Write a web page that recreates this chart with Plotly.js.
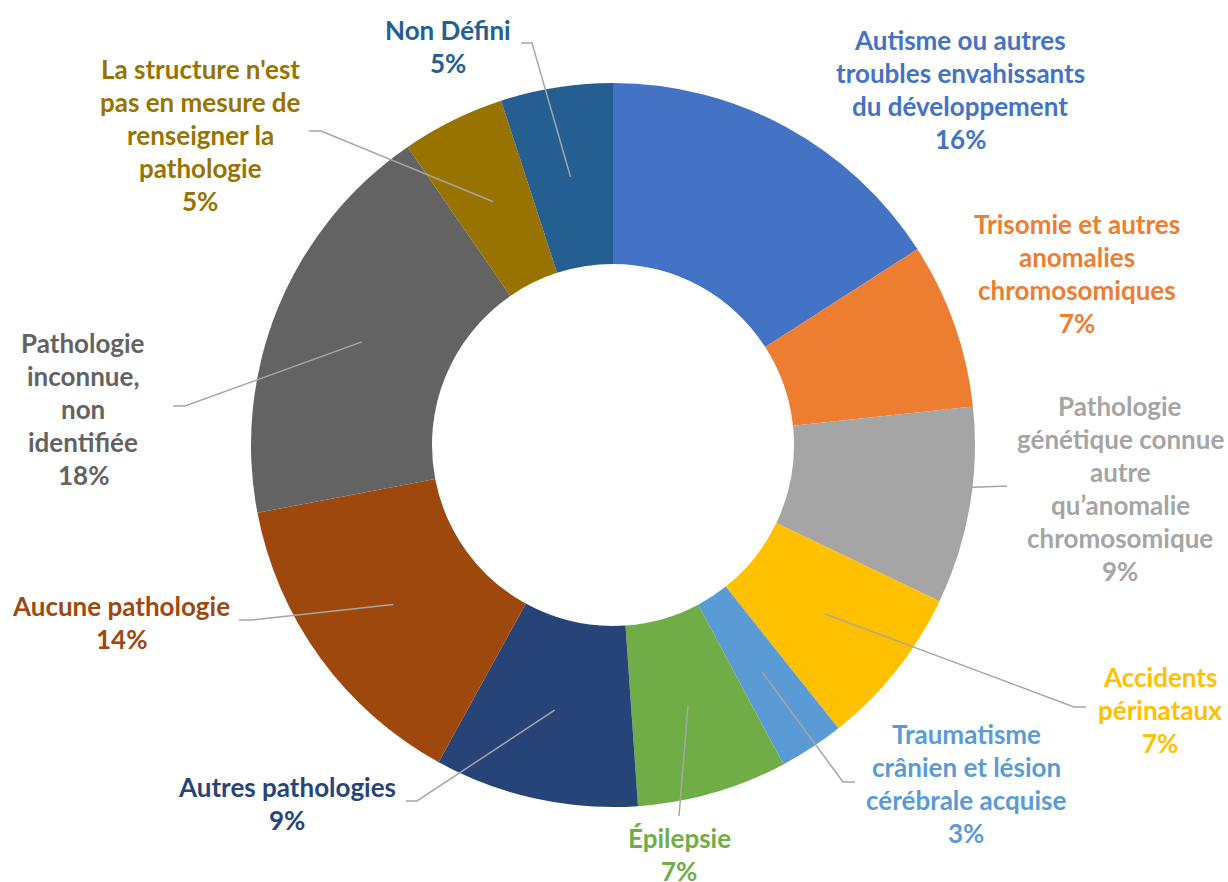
<!DOCTYPE html>
<html>
<head>
<meta charset="utf-8">
<script src="https://cdn.plot.ly/plotly-3.0.1.min.js"></script>
<style>html,body{margin:0;padding:0;background:#fff;}#chart{width:1228px;height:882px;}</style>
</head>
<body>
<div id="chart"></div>
<script>
// ---- data ----
const categories = [
  "Autisme ou autres troubles envahissants du développement",
  "Trisomie et autres anomalies chromosomiques",
  "Pathologie génétique connue autre qu’anomalie chromosomique",
  "Accidents périnataux",
  "Traumatisme crânien et lésion cérébrale acquise",
  "Épilepsie",
  "Autres pathologies",
  "Aucune pathologie",
  "Pathologie inconnue, non identifiée",
  "La structure n'est pas en mesure de renseigner la pathologie",
  "Non Défini"
];
const values = [15.9, 7.4, 8.8, 7.2, 2.9, 6.7, 9.1, 14.0, 18.4, 4.6, 5.0];
const labelLines = [
  ["Autisme ou autres", "troubles envahissants", "du développement"],
  ["Trisomie et autres", "anomalies", "chromosomiques"],
  ["Pathologie", "génétique connue", "autre", "qu’anomalie", "chromosomique"],
  ["Accidents", "périnataux"],
  ["Traumatisme", "crânien et lésion", "cérébrale acquise"],
  ["Épilepsie"],
  ["Autres pathologies"],
  ["Aucune pathologie"],
  ["Pathologie", "inconnue,", "non", "identifiée"],
  ["La structure n'est", "pas en mesure de", "renseigner la", "pathologie"],
  ["Non Défini"]
];
const colors = ["#4472C4","#ED7D31","#A5A5A5","#FFC000","#5B9BD5","#70AD47","#264478","#9E480E","#636363","#997300","#255E91"];
const textColors = ["#4472C4","#ED7D31","#A5A5A5","#FFC000","#5B9BD5","#70AD47","#264478","#9E480E","#636363","#997300","#255E91"];

// ---- layout constants (pixels) ----
const W = 1228, H = 882;
const cx = 613, cy = 445, R = 362;
const lineGap = 33;
// label block: centre x, first line y
const labelPos = [
  [960, 40], [1077, 224], [1120, 406], [1160, 677], [966, 734],
  [679, 838], [287, 787], [121, 606], [83, 343], [200, 69], [448, 30]
];
// leader line points after the slice anchor (null = no line)
const leaders = [
  null, null,
  [[1007, 486]],
  [[1074, 707], [1086, 707]],
  [[843, 782], [855, 782]],
  [[679, 816]],
  [[417, 801], [406, 801]],
  [[252, 620], [239, 620]],
  [[185, 406], [173, 406]],
  [[321, 131], [309, 131]],
  [[532, 43], [521, 43]]
];

const px = x => x / W;
const py = y => 1 - y / H;

const total = values.reduce((a, b) => a + b, 0);
const annotations = [];
const shapes = [];
let cum = 0;
values.forEach((v, i) => {
  const mid = (cum + v / 2) / total * 2 * Math.PI;
  cum += v;
  const pct = Math.round(v / total * 100) + "%";
  const lines = labelLines[i].concat([pct]);
  const [lx, ly] = labelPos[i];
  lines.forEach((t, k) => {
    annotations.push({
      xref: "paper", yref: "paper",
      x: px(lx), y: py(ly + k * lineGap),
      xanchor: "center", yanchor: "middle",
      text: t, showarrow: false,
      font: {family: "Lato, 'Open Sans', sans-serif", size: 26, color: textColors[i], weight: "bold"}
    });
  });
  if (leaders[i]) {
    const r = 0.75 * R;
    const sx = cx + r * Math.sin(mid), sy = cy - r * Math.cos(mid);
    let path = "M " + px(sx) + "," + py(sy);
    leaders[i].forEach(p => { path += " L " + px(p[0]) + "," + py(p[1]); });
    shapes.push({type: "path", xref: "paper", yref: "paper", path: path,
      line: {color: "#A6A6A6", width: 1.5}});
  }
});

const data = [{
  type: "pie",
  labels: categories,
  values: values,
  hole: 0.5,
  sort: false,
  direction: "clockwise",
  rotation: 0,
  textinfo: "none",
  hoverinfo: "label+percent",
  marker: {colors: colors, line: {width: 0}},
  domain: {x: [(cx - R) / W, (cx + R) / W], y: [1 - (cy + R) / H, 1 - (cy - R) / H]},
  showlegend: false
}];

const layout = {
  width: W, height: H,
  margin: {l: 0, r: 0, t: 0, b: 0},
  paper_bgcolor: "#ffffff",
  plot_bgcolor: "#ffffff",
  showlegend: false,
  annotations: annotations,
  shapes: shapes
};

Plotly.newPlot("chart", data, layout, {displayModeBar: false, staticPlot: true});
</script>
</body>
</html>
